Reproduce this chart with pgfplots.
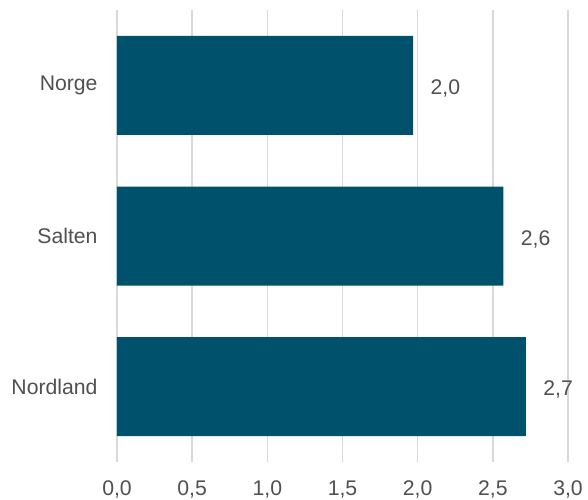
\documentclass[border=0pt]{standalone}
\usepackage{pgfplots}
\pgfplotsset{compat=1.18}
\usepackage{fontspec}
\setmainfont{Liberation Sans}
\definecolor{barc}{HTML}{00526C}
\definecolor{txt}{HTML}{505050}
\definecolor{gridc}{HTML}{D9D9D9}
\begin{document}
\begin{tikzpicture}
\useasboundingbox (-58.5pt,-18.5pt) rectangle (235.5pt,231pt);
\begin{axis}[
  scale only axis,
  width=225.5pt, height=226pt,
  xbar, bar width=49.5pt,
  xmin=0, xmax=3, ymin=-0.5, ymax=2.5,
  xtick={0,0.5,1,1.5,2,2.5,3},
  ytick={0,1,2},
  yticklabels={Nordland,Salten,Norge},
  xmajorgrids,
  grid style={gridc, line width=0.8pt},
  axis line style={draw=none},
  major tick length=0pt,
  font=\fontsize{10.6}{12}\selectfont,
  tick label style={txt},
  /pgf/number format/assume math mode=true,
  xticklabel={\pgfmathprintnumber[fixed,fixed zerofill,precision=1,use comma]{\tick}},
  xticklabel style={anchor=base, yshift=-16.8pt},
  yticklabel style={anchor=east, xshift=-6.2pt},
  nodes near coords={\pgfmathprintnumber[fixed,fixed zerofill,precision=1,use comma]{\pgfplotspointmeta}},
  every node near coord/.append style={anchor=west, xshift=5.2pt, yshift=-1.5pt, txt, font=\fontsize{10.6}{12}\selectfont},
  clip=false,
]
\addplot[fill=barc, draw=none] coordinates {(2.72,0) (2.57,1) (1.97,2)};
\end{axis}
\end{tikzpicture}
\end{document}
